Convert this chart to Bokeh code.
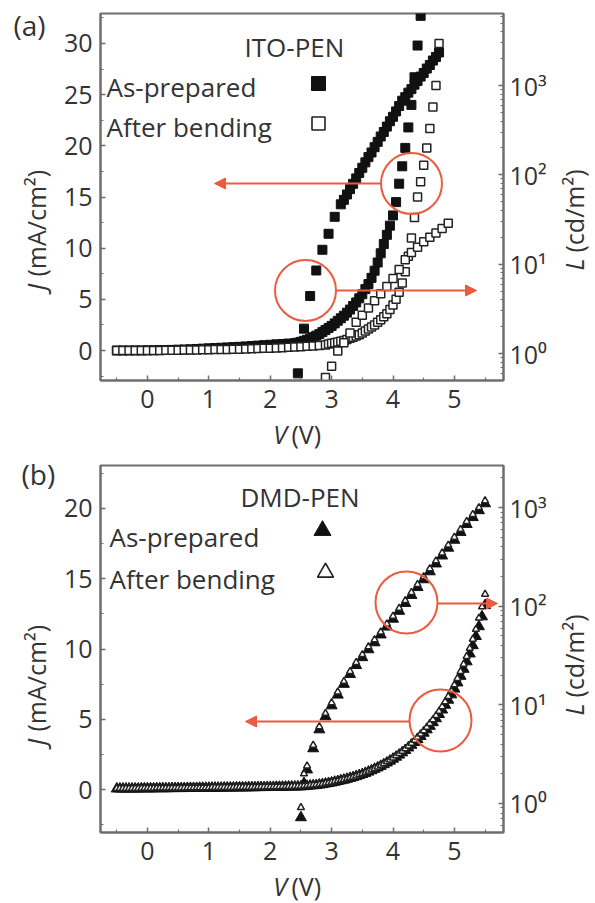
import math
from bokeh.plotting import figure
from bokeh.layouts import column, row
from bokeh.models import (Range1d, LogScale, LogAxis, FixedTicker, CustomJSTickFormatter,
                          Label, Arrow, NormalHead)
from bokeh.core.properties import value
from bokeh.embed import file_html
from bokeh.resources import INLINE

# ---------------- data: panel (a) ITO-PEN ----------------
V_J_ito_ap = [-0.5, -0.4, -0.3, -0.2, -0.1, 0.0, 0.1, 0.2, 0.3, 0.4, 0.5, 0.6, 0.7, 0.8, 0.9, 1.0,
              1.1, 1.2, 1.3, 1.4, 1.5, 1.6, 1.7, 1.8, 1.9, 2.0, 2.1, 2.2, 2.3, 2.4,
              2.45, 2.5, 2.55, 2.6, 2.65, 2.7, 2.75, 2.8, 2.85, 2.9, 2.95, 3.0, 3.05, 3.1, 3.15,
              3.2, 3.25, 3.3, 3.35, 3.4, 3.45, 3.5, 3.55, 3.6, 3.65, 3.7, 3.75, 3.8, 3.85, 3.9,
              3.95, 4.0, 4.05, 4.1, 4.15, 4.2, 4.25, 4.3, 4.35, 4.4, 4.45]
J_ito_ap = [0.0, 0.0, 0.0, 0.01, 0.01, 0.02, 0.03, 0.04, 0.05, 0.06, 0.08, 0.10, 0.12, 0.15, 0.18,
            0.21, 0.24, 0.27, 0.30, 0.33, 0.36, 0.40, 0.44, 0.48, 0.52, 0.56, 0.60, 0.64, 0.68, 0.72,
            0.77, 0.85, 0.95, 1.05, 1.15, 1.3, 1.45, 1.6, 1.8, 2.0, 2.2, 2.4, 2.65, 2.9, 3.15,
            3.4, 3.7, 4.0, 4.35, 4.7, 5.1, 5.5, 6.0, 6.5, 7.1, 7.8, 8.6, 9.5, 10.4, 11.3,
            12.2, 13.2, 14.5, 16.3, 18.0, 19.8, 21.8, 24.0, 26.7, 29.8, 32.7]

V_J_ito_ab = [-0.5, -0.4, -0.3, -0.2, -0.1, 0.0, 0.1, 0.2, 0.3, 0.4, 0.5, 0.6, 0.7, 0.8, 0.9, 1.0,
              1.1, 1.2, 1.3, 1.4, 1.5, 1.6, 1.7, 1.8, 1.9, 2.0, 2.1, 2.2, 2.3, 2.4, 2.5, 2.6, 2.7,
              2.8, 2.9,
              2.95, 3.0, 3.05, 3.1, 3.15, 3.2, 3.25, 3.3, 3.35, 3.4, 3.45, 3.5, 3.55, 3.6, 3.65,
              3.7, 3.75, 3.8, 3.85, 3.9, 3.95, 4.0, 4.05, 4.1, 4.15, 4.2, 4.25, 4.3, 4.35, 4.4,
              4.45, 4.5, 4.55, 4.6, 4.65, 4.7, 4.75]
J_ito_ab = [0.0, 0.0, 0.0, 0.0, 0.0, 0.0, 0.01, 0.01, 0.02, 0.02, 0.03, 0.04, 0.05, 0.06, 0.07,
            0.08, 0.09, 0.10, 0.11, 0.12, 0.13, 0.15, 0.17, 0.19, 0.21, 0.23, 0.25, 0.28, 0.31,
            0.34, 0.37, 0.41, 0.45, 0.50, 0.55,
            0.64, 0.7, 0.76, 0.83, 0.9, 0.98, 1.08, 1.2, 1.3, 1.42, 1.55, 1.7, 1.9, 2.1, 2.3,
            2.5, 2.75, 3.0, 3.3, 3.6, 4.0, 4.45, 5.0, 5.7, 6.6, 7.7, 9.2, 11.0, 13.0, 15.0,
            16.5, 18.1, 19.8, 21.7, 23.8, 25.9, 30.0]

V_L_ito_ap = [2.45, 2.55, 2.65, 2.75, 2.85, 2.95, 3.05, 3.15,
              3.2, 3.25, 3.3, 3.35, 3.4, 3.45, 3.5, 3.55, 3.6, 3.65, 3.7, 3.75, 3.8, 3.85, 3.9,
              3.95, 4.0, 4.05, 4.1, 4.15, 4.2, 4.25, 4.3, 4.35, 4.4, 4.45, 4.5, 4.55, 4.6, 4.65,
              4.7, 4.75]
L_ito_ap = [0.60, 1.9, 4.4, 8.5, 14.5, 21.9, 33.9, 46.8,
            52.5, 60.3, 69.2, 79.4, 91.2, 105, 120, 138, 158, 178, 204, 234, 269, 302, 347,
            398, 447, 513, 589, 676, 741, 832, 912, 1023, 1122, 1259, 1380, 1549, 1698, 1905,
            2089, 2344]

V_L_ito_ab = [2.9, 3.0, 3.1, 3.2, 3.3, 3.4, 3.5, 3.6, 3.7, 3.8, 3.9, 4.0, 4.1, 4.2, 4.3, 4.4,
              4.5, 4.6, 4.7, 4.8, 4.9]
L_ito_ab = [0.54, 0.72, 1.07, 1.32, 1.70, 2.24, 2.69, 3.24, 3.89, 4.68, 5.62, 6.92, 8.71, 11.2,
            13.5, 15.5, 17.8, 20.0, 22.4, 25.1, 28.8]

# ---------------- data: panel (b) DMD-PEN ----------------
V_J_dmd = [-0.5, -0.45, -0.4, -0.35, -0.3, -0.25, -0.2, -0.15, -0.1, -0.05,
           0.0, 0.05, 0.1, 0.15, 0.2, 0.25, 0.3, 0.35, 0.4, 0.45,
           0.5, 0.55, 0.6, 0.65, 0.7, 0.75, 0.8, 0.85, 0.9, 0.95,
           1.0, 1.05, 1.1, 1.15, 1.2, 1.25, 1.3, 1.35, 1.4, 1.45,
           1.5, 1.55, 1.6, 1.65, 1.7, 1.75, 1.8, 1.85, 1.9, 1.95,
           2.0, 2.05, 2.1, 2.15, 2.2, 2.25, 2.3, 2.35, 2.4, 2.45,
           2.5, 2.55, 2.6, 2.65, 2.7, 2.75, 2.8, 2.85, 2.9, 2.95, 3.0, 3.05, 3.1, 3.15, 3.2,
           3.25, 3.3, 3.35, 3.4, 3.45, 3.5, 3.55, 3.6, 3.65, 3.7, 3.75, 3.8, 3.85, 3.9, 3.95,
           4.0, 4.05, 4.1, 4.15, 4.2, 4.25, 4.3, 4.35, 4.4, 4.45, 4.5, 4.55, 4.6, 4.65, 4.7,
           4.75, 4.8, 4.85, 4.9, 4.95, 5.0, 5.05, 5.1, 5.15, 5.2, 5.25, 5.3, 5.35, 5.4, 5.45, 5.5]
J_dmd_ap = [0.05, 0.05, 0.05, 0.05, 0.05, 0.05, 0.05, 0.05, 0.06, 0.06,
            0.06, 0.06, 0.06, 0.07, 0.07, 0.07, 0.07, 0.07, 0.08, 0.08,
            0.08, 0.08, 0.08, 0.09, 0.09, 0.09, 0.09, 0.10, 0.10, 0.10,
            0.10, 0.11, 0.11, 0.11, 0.11, 0.12, 0.12, 0.12, 0.12, 0.13,
            0.13, 0.13, 0.13, 0.14, 0.14, 0.14, 0.15, 0.15, 0.15, 0.16,
            0.16, 0.16, 0.17, 0.17, 0.18, 0.18, 0.19, 0.19, 0.19, 0.20,
            0.20, 0.22, 0.24, 0.26, 0.28, 0.30, 0.33, 0.36, 0.40, 0.44,
            0.48, 0.53, 0.58, 0.63, 0.68, 0.74, 0.80, 0.86, 0.93, 1.00,
            1.08, 1.16, 1.25, 1.35, 1.45, 1.55, 1.66, 1.78, 1.90, 2.03,
            2.17, 2.31, 2.46, 2.62, 2.79, 2.97, 3.16, 3.36, 3.57, 3.79,
            4.02, 4.26, 4.51, 4.77, 5.05, 5.35, 5.67, 6.01, 6.37, 6.75,
            7.16, 7.60, 8.07, 8.57, 9.10, 9.66, 10.25, 10.9, 11.6, 12.3, 13.1]
J_dmd_ab = [0.08, 0.08, 0.08, 0.08, 0.08, 0.08, 0.08, 0.08, 0.09, 0.09,
            0.09, 0.09, 0.09, 0.10, 0.10, 0.10, 0.10, 0.10, 0.11, 0.11,
            0.11, 0.11, 0.11, 0.12, 0.12, 0.12, 0.12, 0.13, 0.13, 0.13,
            0.13, 0.14, 0.14, 0.14, 0.14, 0.15, 0.15, 0.15, 0.15, 0.16,
            0.16, 0.16, 0.16, 0.17, 0.17, 0.17, 0.18, 0.18, 0.18, 0.19,
            0.19, 0.19, 0.20, 0.20, 0.21, 0.21, 0.22, 0.22, 0.23, 0.23,
            0.24, 0.26, 0.28, 0.30, 0.32, 0.34, 0.37, 0.40, 0.44, 0.48,
            0.52, 0.57, 0.62, 0.67, 0.72, 0.78, 0.84, 0.90, 0.97, 1.05,
            1.13, 1.21, 1.30, 1.40, 1.50, 1.61, 1.72, 1.84, 1.97, 2.10,
            2.25, 2.40, 2.56, 2.72, 2.90, 3.09, 3.29, 3.50, 3.72, 3.95,
            4.19, 4.44, 4.70, 4.97, 5.26, 5.57, 5.90, 6.25, 6.62, 7.02,
            7.45, 7.91, 8.40, 8.92, 9.47, 10.05, 10.7, 11.4, 12.2, 13.0, 13.9]

V_L_dmd = [2.5, 2.55, 2.6, 2.7, 2.8, 2.9, 3.0, 3.1, 3.2, 3.3, 3.4, 3.5, 3.6, 3.7, 3.8, 3.9, 4.0,
           4.1, 4.2, 4.3, 4.4, 4.5, 4.6, 4.7, 4.8, 4.9, 5.0, 5.1, 5.2, 5.3, 5.4, 5.5]
L_dmd_ap = [0.72, 1.6, 2.2, 3.6, 5.6, 7.6, 9.8, 12.6, 16.2, 20.4, 25.1, 30.2, 36.3, 42.7, 51.3,
            61.7, 74.1, 89.1, 107, 129, 155, 186, 224, 269, 324, 389, 468, 562, 676, 794, 933, 1096]
L_dmd_ab = [0.91, 2.0, 2.4, 3.9, 6.0, 8.2, 10.5, 13.5, 17.3, 21.8, 26.9, 32.3, 38.8, 45.7, 54.9,
            66.0, 79.3, 95.3, 114, 138, 166, 199, 240, 288, 347, 416, 501, 601, 723, 850, 998, 1170]

J_ticks_a = [0, 5, 10, 15, 20, 25, 30]
J_ticks_b = [0, 5, 10, 15, 20]
V_ticks = [0, 1, 2, 3, 4, 5]
L_ticks = [1, 10, 100, 1000]

# ---------------- styling / layout ----------------
FONT = "Open Sans"
TXT = "#333333"
AX = "#6e6e6e"
RED = "#ea5b3f"
FS = "25px"      # tick labels
LFS = "26px"     # legend texts
AFS = "25px"     # axis titles
XR = (-0.765, 5.80)
FX0, FW, FH = 97, 403, 367          # frame left (page px), frame width / height
LW = 60                             # left text strip
BL, BR = FX0 - LW, 46               # main figure left / right borders
COLW = BL + FW + BR                 # centre column width
RW = 595 - LW - COLW                # right text strip
MAIN_H, STRIP_H_A, STRIP_H_B = 415, 37, 36


def make_panel(top_px, yr, lr, jticks):
    p = figure(frame_width=FW, frame_height=FH, x_range=Range1d(*XR), y_range=Range1d(*yr),
               output_backend="svg", toolbar_location=None,
               min_border_left=BL, min_border_right=BR,
               min_border_top=13, min_border_bottom=MAIN_H - 13 - FH)
    p.extra_y_ranges = {"L": Range1d(*lr)}
    p.extra_y_scales = {"L": LogScale()}
    lax = LogAxis(y_range_name="L")
    p.add_layout(lax, "right")
    p.grid.visible = False
    p.outline_line_color = AX
    p.outline_line_width = 2
    p.background_fill_color = "white"
    p.border_fill_color = "white"

    minor_j = [t + 2.5 for t in [-5] + jticks]
    p.yaxis[0].ticker = FixedTicker(ticks=jticks, minor_ticks=minor_j)
    p.xaxis[0].ticker = FixedTicker(ticks=V_ticks, minor_ticks=[-0.5, 0.5, 1.5, 2.5, 3.5, 4.5, 5.5])
    lminor = []
    for dec in [0.1, 1, 10, 100, 1000]:
        for k in range(2, 10):
            lminor.append(dec * k)
    lax.ticker = FixedTicker(ticks=L_ticks, minor_ticks=lminor)
    lax.formatter = CustomJSTickFormatter(code="""
        const e = Math.round(Math.log10(tick));
        const sup = {"0": "\u2070", "1": "\u00b9", "2": "\u00b2", "3": "\u00b3"};
        return "10" + sup[String(e)];
    """)
    for ax in [p.xaxis[0], p.yaxis[0], lax]:
        ax.axis_line_color = AX
        ax.axis_line_width = 2
        ax.major_tick_line_color = AX
        ax.minor_tick_line_color = AX
        ax.major_tick_line_width = 1.5
        ax.minor_tick_line_width = 1.2
        ax.major_tick_in = 5
        ax.major_tick_out = 0
        ax.minor_tick_in = 3
        ax.minor_tick_out = 0
        ax.major_label_text_font = FONT
        ax.major_label_text_font_size = FS
        ax.major_label_text_color = TXT
        ax.axis_label = None
    p.yaxis[0].major_label_standoff = 8
    p.xaxis[0].major_label_standoff = 9
    lax.major_label_standoff = 6

    def xd(px):
        return XR[0] + (px - FX0) / FW * (XR[1] - XR[0])

    def yd(py):
        return yr[1] - (py - top_px) / FH * (yr[1] - yr[0])

    return p, xd, yd


def add_text(p, x, y, text):
    p.add_layout(Label(x=x, y=y, text=text, text_font=FONT, text_font_size=LFS,
                       text_color=TXT, text_align="left", text_baseline="middle"))


def text_strip(w, h):
    f = figure(width=w, height=h, x_range=Range1d(0, w), y_range=Range1d(h, 0),
               output_backend="svg", toolbar_location=None, min_border=0,
               x_axis_type=None, y_axis_type=None)
    f.grid.visible = False
    f.outline_line_color = None
    f.background_fill_color = "white"
    f.border_fill_color = "white"
    return f


def put(f, x, y, text, italic=False, angle=0.0, size=AFS):
    f.text(x=[x], y=[y], text=[text], text_font=value(FONT), text_font_size=value(size),
           text_color=TXT, text_align="left", text_baseline="middle", angle=angle,
           text_font_style="italic" if italic else "normal")


# ================= panel (a) =================
pa, xa, ya = make_panel(13, (-2.93, 32.93), (0.499, 6400), J_ticks_a)

pa.scatter(V_J_ito_ap, J_ito_ap, marker="square", size=9, fill_color="#111111", line_color="#111111")
pa.scatter(V_L_ito_ap, L_ito_ap, marker="square", size=9, fill_color="#111111", line_color="#111111",
           y_range_name="L")
pa.scatter(V_J_ito_ab, J_ito_ab, marker="square", size=8, fill_color="white", line_color="#222222",
           line_width=1.5)
pa.scatter(V_L_ito_ab, L_ito_ab, marker="square", size=8, fill_color="white", line_color="#222222",
           line_width=1.5, y_range_name="L")

pa.scatter([xa(315)], [ya(83)], marker="square", size=14, fill_color="#111111", line_color="#111111")
pa.scatter([xa(315)], [ya(123)], marker="square", size=13, fill_color="white", line_color="#222222",
           line_width=1.6)
add_text(pa, xa(241), ya(46), "ITO-PEN")
add_text(pa, xa(103), ya(86), "As-prepared")
add_text(pa, xa(103), ya(126), "After bending")

pa.scatter([xa(408), xa(302)], [ya(183), ya(290)], marker="circle", size=61, fill_alpha=0,
           line_color=RED, line_width=2)
pa.add_layout(Arrow(end=NormalHead(size=11, fill_color=RED, line_color=RED),
                    x_start=xa(377), y_start=ya(183), x_end=xa(211), y_end=ya(183),
                    line_color=RED, line_width=2))
pa.add_layout(Arrow(end=NormalHead(size=11, fill_color=RED, line_color=RED),
                    x_start=xa(333), y_start=ya(290), x_end=xa(473), y_end=ya(290),
                    line_color=RED, line_width=2))

# ================= panel (b) =================
pb, xb, yb = make_panel(465, (-3.06, 23.06), (0.508, 2666), J_ticks_b)

pb.scatter(V_J_dmd, J_dmd_ap, marker="triangle", size=11, fill_color="#111111", line_color="#111111")
pb.scatter(V_L_dmd, L_dmd_ap, marker="triangle", size=11, fill_color="#111111", line_color="#111111",
           y_range_name="L")
pb.scatter(V_J_dmd, J_dmd_ab, marker="triangle", size=7, fill_color="white", line_color="#222222",
           line_width=1.5)
pb.scatter(V_L_dmd, L_dmd_ab, marker="triangle", size=7, fill_color="white", line_color="#222222",
           line_width=1.5, y_range_name="L")

pb.scatter([xb(319)], [yb(530)], marker="triangle", size=17, fill_color="#111111", line_color="#111111")
pb.scatter([xb(322)], [yb(572)], marker="triangle", size=16, fill_color="white", line_color="#222222",
           line_width=1.6)
add_text(pb, xb(237), yb(496), "DMD-PEN")
add_text(pb, xb(106), yb(536), "As-prepared")
add_text(pb, xb(106), yb(578), "After bending")

pb.scatter([xb(403), xb(437)], [yb(602), yb(720)], marker="circle", size=62, fill_alpha=0,
           line_color=RED, line_width=2)
pb.add_layout(Arrow(end=NormalHead(size=11, fill_color=RED, line_color=RED),
                    x_start=xb(434), y_start=yb(603), x_end=xb(494), y_end=yb(603),
                    line_color=RED, line_width=2))
pb.add_layout(Arrow(end=NormalHead(size=11, fill_color=RED, line_color=RED),
                    x_start=xb(406), y_start=yb(721), x_end=xb(242), y_end=yb(721),
                    line_color=RED, line_width=2))

# ================= text strips (outside the frames) =================
H_ALL = MAIN_H * 2 + STRIP_H_A + STRIP_H_B
tl = text_strip(LW, H_ALL)
put(tl, 13, 24, "(a)", size="28px")
put(tl, 21, 473, "(b)", size="28px")
put(tl, 35, 290, "J", italic=True, angle=math.pi / 2)
put(tl, 35, 276, "(mA/cm\u00b2)", angle=math.pi / 2)
put(tl, 35, 745, "J", italic=True, angle=math.pi / 2)
put(tl, 35, 731, "(mA/cm\u00b2)", angle=math.pi / 2)

RX = RW / 2
tr = text_strip(RW, H_ALL)
put(tr, RX, 270, "L", italic=True, angle=math.pi / 2)
put(tr, RX, 252, "(cd/m\u00b2)", angle=math.pi / 2)
put(tr, RX, 715, "L", italic=True, angle=math.pi / 2)
put(tr, RX, 697, "(cd/m\u00b2)", angle=math.pi / 2)

sa = text_strip(COLW, STRIP_H_A)
put(sa, 270 - LW, STRIP_H_A / 2, "V", italic=True)
put(sa, 292 - LW, STRIP_H_A / 2, "(V)")
sb = text_strip(COLW, STRIP_H_B)
put(sb, 270 - LW, STRIP_H_B / 2, "V", italic=True)
put(sb, 292 - LW, STRIP_H_B / 2, "(V)")

layout = row(tl, column(pa, sa, pb, sb, spacing=0), tr, spacing=0)
open("out.html", "w").write(file_html(layout, INLINE))
